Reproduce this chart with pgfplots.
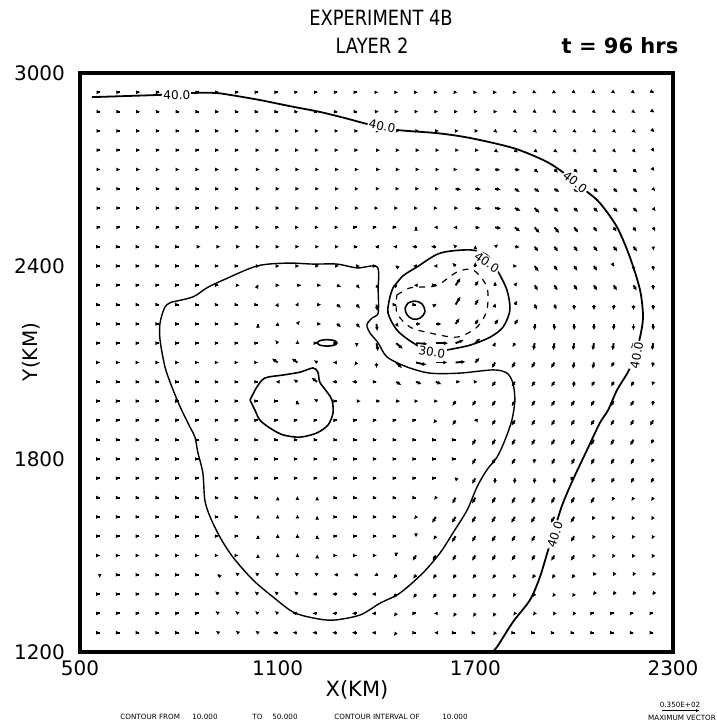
\documentclass[border=0pt]{standalone}
\usepackage{fontspec}
\setmainfont{DejaVu Sans}
\newfontfamily\titlefont[FakeStretch=0.85]{DejaVu Sans}
\usepackage{pgfplots}
\usepackage{pgfplotstable}
\pgfplotsset{compat=1.18}
\usetikzlibrary{arrows.meta}

\pgfplotstableread{
x y u v
560 2940 2 0
620 2940 2 0
680 2940 2 0
740 2940 2 0
800 2940 2 0
860 2940 2 0
920 2940 2 0
980 2940 2 0
1040 2940 2 0
1100 2940 2 0
1160 2940 2 0
1220 2940 2 0
1280 2940 2 0
1340 2940 2 0
1400 2940 5 0
1460 2940 5 0
1520 2940 5 0
1580 2940 5 0
1640 2940 5 0
1700 2940 5 0
1760 2940 5 0
1820 2940 5 0
1880 2940 5 -2
1940 2940 5 -2
2000 2940 4 -3
2060 2940 4 -3
2120 2940 4 -3
2180 2940 4 -3
2240 2940 2 -1
560 2880 2 0
620 2880 2 0
680 2880 2 0
740 2880 2 0
800 2880 2 0
860 2880 2 0
920 2880 2 0
980 2880 2 0
1040 2880 2 0
1100 2880 2 0
1160 2880 2 0
1220 2880 2 0
1280 2880 2 0
1340 2880 2 0
1400 2880 6 0
1460 2880 6 0
1520 2880 6 0
1580 2880 6 0
1640 2880 6 0
1700 2880 6 0
1760 2880 6 0
1820 2880 5 -4
1880 2880 5 -4
1940 2880 5 -4
2000 2880 5 -4
2060 2880 5 -4
2120 2880 5 -4
2180 2880 5 -4
2240 2880 3 -2
560 2820 2 0
620 2820 2 0
680 2820 2 0
740 2820 2 0
800 2820 2 0
860 2820 2 0
920 2820 2 0
980 2820 2 0
1040 2820 4 0
1100 2820 4 0
1160 2820 4 0
1220 2820 4 0
1280 2820 4 0
1340 2820 4 0
1400 2820 8 0
1460 2820 8 0
1520 2820 8 0
1580 2820 8 0
1640 2820 8 0
1700 2820 8 0
1760 2820 6 -5
1820 2820 6 -5
1880 2820 6 -5
1940 2820 6 -5
2000 2820 6 -5
2060 2820 6 -5
2120 2820 6 -5
2180 2820 6 -5
2240 2820 3 -3
560 2760 2 0
620 2760 2 0
680 2760 2 0
740 2760 2 0
800 2760 2 0
860 2760 2 0
920 2760 2 0
980 2760 2 0
1040 2760 4 0
1100 2760 4 0
1160 2760 4 0
1220 2760 4 0
1280 2760 4 0
1340 2760 4 0
1400 2760 9 0
1460 2760 9 0
1520 2760 9 0
1580 2760 9 0
1640 2760 9 0
1700 2760 9 0
1760 2760 8 -6
1820 2760 8 -6
1880 2760 8 -6
1940 2760 8 -6
2000 2760 6 -6
2060 2760 6 -6
2120 2760 6 -6
2180 2760 6 -6
2240 2760 3 -4
560 2700 2 0
620 2700 2 0
680 2700 2 0
740 2700 2 0
800 2700 2 0
860 2700 2 0
920 2700 2 0
980 2700 2 0
1040 2700 5 0
1100 2700 5 0
1160 2700 5 0
1220 2700 5 0
1280 2700 5 0
1340 2700 5 0
1400 2700 9 0
1460 2700 9 0
1520 2700 9 0
1580 2700 9 0
1640 2700 5 0
1700 2700 13 -1
1760 2700 13 -1
1820 2700 13 -1
1880 2700 9 -8
1940 2700 9 -8
2000 2700 9 -8
2060 2700 9 -8
2120 2700 9 -8
2180 2700 9 -8
2240 2700 3 -4
560 2640 2 0
620 2640 2 0
680 2640 2 0
740 2640 2 0
800 2640 2 0
860 2640 2 0
920 2640 2 0
980 2640 2 0
1040 2640 5 0
1100 2640 5 0
1160 2640 5 0
1220 2640 5 0
1280 2640 5 0
1340 2640 5 0
1400 2640 8 0
1460 2640 8 0
1520 2640 8 0
1580 2640 8 0
1640 2640 14 -2
1700 2640 14 -2
1760 2640 14 -2
1820 2640 12 -8
1880 2640 12 -8
1940 2640 12 -8
2000 2640 10 -9
2060 2640 10 -9
2120 2640 10 -9
2180 2640 10 -9
2240 2640 5 -6
560 2580 2 0
620 2580 2 0
680 2580 2 0
740 2580 2 0
800 2580 2 0
860 2580 2 0
920 2580 2 0
980 2580 2 0
1040 2580 5 0
1100 2580 5 0
1160 2580 5 0
1220 2580 5 0
1280 2580 5 0
1340 2580 5 0
1400 2580 5 0
1460 2580 5 0
1520 2580 5 0
1580 2580 5 0
1640 2580 7 0
1700 2580 15 -2
1760 2580 15 -2
1820 2580 14 -7
1880 2580 12 -12
1940 2580 10 -10
2000 2580 10 -10
2060 2580 10 -10
2120 2580 10 -10
2180 2580 10 -10
2240 2580 6 -8
560 2520 2 0
620 2520 2 0
680 2520 2 0
740 2520 2 0
800 2520 2 0
860 2520 2 0
920 2520 2 0
980 2520 2 0
1040 2520 4 0
1100 2520 4 0
1160 2520 4 0
1220 2520 4 0
1280 2520 4 0
1340 2520 1 0
1400 2520 1 0
1460 2520 1 0
1520 2520 0 2
1580 2520 -5 0
1640 2520 -6 0
1700 2520 12 -1
1760 2520 15 -2
1820 2520 13 -10
1880 2520 12 -14
1940 2520 12 -14
2000 2520 10 -13
2060 2520 8 -11
2120 2520 7 -11
2180 2520 7 -11
2240 2520 5 -10
560 2460 1 0
620 2460 1 0
680 2460 1 0
740 2460 1 0
800 2460 1 0
860 2460 5 0
920 2460 5 0
980 2460 5 0
1040 2460 5 0
1100 2460 5 0
1160 2460 5 0
1220 2460 5 0
1280 2460 5 0
1340 2460 3 0
1400 2460 -4 0
1460 2460 -8 0
1520 2460 -10 0
1580 2460 -12 0
1640 2460 -6 6
1700 2460 0 4
1760 2460 8 6
1820 2460 12 -1
1880 2460 9 -12
1940 2460 9 -12
2000 2460 9 -12
2060 2460 9 -12
2120 2460 9 -12
2180 2460 9 -12
2240 2460 1 -10
560 2400 1 0
620 2400 1 0
680 2400 1 0
740 2400 1 0
800 2400 1 0
860 2400 1 0
920 2400 1 0
980 2400 1 0
1040 2400 5 0
1100 2400 5 0
1160 2400 5 0
1220 2400 5 0
1280 2400 5 0
1340 2400 8 0
1400 2400 1 0
1460 2400 -2 2
1520 2400 -8 0
1580 2400 -6 0
1640 2400 -8 8
1700 2400 0 10
1760 2400 6 8
1820 2400 6 0
1880 2400 10 -14
1940 2400 8 -12
2000 2400 8 -12
2060 2400 8 -12
2120 2400 1 -2
2180 2400 0 -12
2240 2400 0 -12
560 2340 1 0
620 2340 1 0
680 2340 1 0
740 2340 1 0
800 2340 1 0
860 2340 1 0
920 2340 1 0
980 2340 4 0
1040 2340 1 2
1100 2340 5 0
1160 2340 10 0
1220 2340 10 0
1280 2340 10 -4
1340 2340 8 -8
1400 2340 6 -10
1460 2340 3 3
1520 2340 -6 0
1580 2340 1 0
1640 2340 12 18
1700 2340 8 12
1760 2340 0 10
1820 2340 6 8
1880 2340 8 -13
1940 2340 8 -13
2000 2340 8 -13
2060 2340 8 -13
2120 2340 8 -13
2180 2340 8 -13
2240 2340 0 -12
560 2280 1 0
620 2280 1 0
680 2280 1 0
740 2280 1 0
800 2280 1 0
860 2280 1 0
920 2280 1 0
980 2280 1 0
1040 2280 1 0
1100 2280 2 5
1160 2280 3 6
1220 2280 10 0
1280 2280 10 -8
1340 2280 8 -10
1400 2280 2 -16
1460 2280 1 0
1520 2280 1 0
1580 2280 2 1
1640 2280 12 20
1700 2280 8 14
1760 2280 1 3
1820 2280 6 10
1880 2280 6 -13
1940 2280 5 -13
2000 2280 0 -14
2060 2280 0 -14
2120 2280 0 -14
2180 2280 0 -14
2240 2280 0 -14
560 2220 1 0
620 2220 1 0
680 2220 1 0
740 2220 1 0
800 2220 1 0
860 2220 1 0
920 2220 1 0
980 2220 1 0
1040 2220 0 1
1100 2220 1 5
1160 2220 6 8
1220 2220 10 0
1280 2220 10 -8
1340 2220 8 -10
1400 2220 2 -18
1460 2220 6 -8
1520 2220 12 0
1580 2220 14 0
1640 2220 10 14
1700 2220 8 12
1760 2220 8 12
1820 2220 8 12
1880 2220 0 -16
1940 2220 0 -16
2000 2220 0 -16
2060 2220 0 -16
2120 2220 0 -16
2180 2220 0 -16
2240 2220 0 -16
560 2160 1 0
620 2160 1 0
680 2160 1 0
740 2160 1 0
800 2160 1 0
860 2160 1 0
920 2160 1 0
980 2160 1 0
1040 2160 1 0
1100 2160 -6 8
1160 2160 0 8
1220 2160 1 0
1280 2160 1 0
1340 2160 0 -10
1400 2160 4 -20
1460 2160 16 -14
1520 2160 28 -2
1580 2160 30 0
1640 2160 20 8
1700 2160 12 12
1760 2160 1 2
1820 2160 -6 -10
1880 2160 -3 -18
1940 2160 -3 -18
2000 2160 -3 -18
2060 2160 -3 -18
2120 2160 -3 -18
2180 2160 -3 -18
2240 2160 -3 -18
560 2100 1 0
620 2100 1 0
680 2100 1 0
740 2100 1 0
800 2100 1 0
860 2100 1 0
920 2100 1 0
980 2100 1 0
1040 2100 1 0
1100 2100 -14 10
1160 2100 -14 10
1220 2100 -8 6
1280 2100 -10 0
1340 2100 -6 -8
1400 2100 0 -14
1460 2100 14 -14
1520 2100 26 -6
1580 2100 28 0
1640 2100 24 2
1700 2100 10 12
1760 2100 -8 -14
1820 2100 -8 -14
1880 2100 -8 -14
1940 2100 -8 -14
2000 2100 -3 -16
2060 2100 -3 -16
2120 2100 -6 -12
2180 2100 -2 -14
2240 2100 -2 -12
560 2040 1 0
620 2040 1 0
680 2040 1 0
740 2040 1 0
800 2040 1 0
860 2040 1 0
920 2040 1 0
980 2040 1 0
1040 2040 1 0
1100 2040 -5 0
1160 2040 -10 6
1220 2040 -14 10
1280 2040 -12 0
1340 2040 -12 0
1400 2040 1 0
1460 2040 12 -8
1520 2040 14 -6
1580 2040 14 -6
1640 2040 12 0
1700 2040 6 0
1760 2040 -8 -12
1820 2040 -8 -12
1880 2040 -8 -12
1940 2040 -8 -12
2000 2040 -2 -14
2060 2040 -6 -12
2120 2040 -6 -12
2180 2040 -6 -12
2240 2040 -2 -10
560 1980 1 0
620 1980 1 0
680 1980 1 0
740 1980 1 0
800 1980 1 0
860 1980 1 0
920 1980 1 0
980 1980 1 0
1040 1980 1 0
1100 1980 1 0
1160 1980 0 2
1220 1980 -8 6
1280 1980 1 0
1340 1980 10 0
1400 1980 10 0
1460 1980 10 0
1520 1980 6 0
1580 1980 6 0
1640 1980 -8 -12
1700 1980 -8 -12
1760 1980 -8 -13
1820 1980 -8 -13
1880 1980 -8 -13
1940 1980 -8 -13
2000 1980 -8 -13
2060 1980 -8 -13
2120 1980 -8 -13
2180 1980 -8 -13
2240 1980 -2 -12
560 1920 1 0
620 1920 1 0
680 1920 1 0
740 1920 1 0
800 1920 1 0
860 1920 1 0
920 1920 1 0
980 1920 1 0
1040 1920 1 0
1100 1920 1 0
1160 1920 1 0
1220 1920 1 0
1280 1920 1 0
1340 1920 1 0
1400 1920 1 0
1460 1920 1 0
1520 1920 1 0
1580 1920 -6 -8
1640 1920 -8 -12
1700 1920 -4 0
1760 1920 -8 -12
1820 1920 -8 -13
1880 1920 -8 -13
1940 1920 -8 -13
2000 1920 -8 -13
2060 1920 -8 -13
2120 1920 -8 -13
2180 1920 -8 -13
2240 1920 -8 -13
560 1860 1 0
620 1860 1 0
680 1860 1 0
740 1860 1 0
800 1860 1 0
860 1860 1 0
920 1860 1 0
980 1860 1 0
1040 1860 1 0
1100 1860 1 0
1160 1860 1 0
1220 1860 1 0
1280 1860 1 0
1340 1860 1 0
1400 1860 1 0
1460 1860 1 0
1520 1860 1 0
1580 1860 1 0
1640 1860 1 0
1700 1860 -8 -14
1760 1860 -8 -14
1820 1860 -8 -14
1880 1860 -8 -14
1940 1860 -8 -14
2000 1860 -8 -14
2060 1860 -8 -14
2120 1860 -8 -14
2180 1860 -8 -14
2240 1860 -6 -11
560 1800 1 0
620 1800 1 0
680 1800 1 0
740 1800 1 0
800 1800 1 0
860 1800 1 0
920 1800 1 0
980 1800 1 0
1040 1800 1 0
1100 1800 1 0
1160 1800 1 0
1220 1800 1 0
1280 1800 1 0
1340 1800 1 0
1400 1800 1 0
1460 1800 1 0
1520 1800 1 0
1580 1800 1 0
1640 1800 1 0
1700 1800 -8 -14
1760 1800 -8 -14
1820 1800 -8 -14
1880 1800 -2 -12
1940 1800 -7 -14
2000 1800 -7 -14
2060 1800 -7 -14
2120 1800 -7 -14
2180 1800 -7 -14
2240 1800 -5 -10
560 1740 1 0
620 1740 1 0
680 1740 1 0
740 1740 1 0
800 1740 1 0
860 1740 1 0
920 1740 1 0
980 1740 1 0
1040 1740 1 0
1100 1740 1 0
1160 1740 1 0
1220 1740 1 0
1280 1740 1 0
1340 1740 1 0
1400 1740 1 0
1460 1740 1 0
1520 1740 1 0
1580 1740 1 0
1640 1740 -3 3
1700 1740 -8 -14
1760 1740 -1 -14
1820 1740 -1 -14
1880 1740 -1 -14
1940 1740 -1 -14
2000 1740 1 0
2060 1740 -6 -12
2120 1740 -6 -12
2180 1740 -6 -12
2240 1740 -6 -12
560 1680 1 0
620 1680 1 0
680 1680 1 0
740 1680 1 0
800 1680 1 0
860 1680 1 0
920 1680 1 0
980 1680 1 0
1040 1680 1 0
1100 1680 0 3
1160 1680 0 4
1220 1680 0 3
1280 1680 1 0
1340 1680 1 0
1400 1680 1 0
1460 1680 1 0
1520 1680 1 0
1580 1680 -4 -6
1640 1680 -8 -15
1700 1680 -8 -15
1760 1680 -8 -15
1820 1680 -8 -15
1880 1680 -8 -15
1940 1680 -8 -15
2000 1680 -8 -15
2060 1680 -8 -15
2120 1680 -5 -9
2180 1680 -5 -9
2240 1680 -5 -9
560 1620 1 0
620 1620 1 0
680 1620 1 0
740 1620 1 0
800 1620 1 0
860 1620 1 0
920 1620 1 0
980 1620 1 0
1040 1620 0 6
1100 1620 0 6
1160 1620 0 6
1220 1620 0 3
1280 1620 1 0
1340 1620 1 0
1400 1620 1 0
1460 1620 1 0
1520 1620 -5 -6
1580 1620 -9 -15
1640 1620 -9 -15
1700 1620 -9 -15
1760 1620 -9 -15
1820 1620 -9 -15
1880 1620 -9 -15
1940 1620 -9 -15
2000 1620 -9 -15
2060 1620 -5 -9
2120 1620 -5 -9
2180 1620 -5 -9
2240 1620 -5 -9
560 1560 1 0
620 1560 1 0
680 1560 1 0
740 1560 1 0
800 1560 1 0
860 1560 1 0
920 1560 1 0
980 1560 1 0
1040 1560 0 3
1100 1560 0 6
1160 1560 0 6
1220 1560 0 3
1280 1560 1 0
1340 1560 1 0
1400 1560 1 0
1460 1560 1 0
1520 1560 0 -3
1580 1560 -6 -9
1640 1560 -9 -15
1700 1560 -8 -14
1760 1560 -8 -14
1820 1560 -8 -14
1880 1560 -8 -14
1940 1560 -8 -14
2000 1560 -8 -14
2060 1560 -4 -8
2120 1560 -4 -8
2180 1560 -4 -8
2240 1560 -4 -8
560 1500 1 0
620 1500 1 0
680 1500 1 0
740 1500 1 0
800 1500 1 0
860 1500 1 0
920 1500 1 0
980 1500 1 0
1040 1500 0 4
1100 1500 0 6
1160 1500 0 6
1220 1500 0 3
1280 1500 1 0
1340 1500 1 0
1400 1500 1 0
1460 1500 0 -3
1520 1500 -8 -13
1580 1500 -8 -13
1640 1500 -8 -13
1700 1500 -8 -13
1760 1500 -8 -13
1820 1500 -8 -13
1880 1500 -8 -13
1940 1500 -8 -13
2000 1500 -8 -13
2060 1500 -4 -7
2120 1500 -4 -7
2180 1500 -4 -7
2240 1500 -4 -7
560 1440 0 -8
620 1440 1 0
680 1440 1 0
740 1440 1 0
800 1440 1 0
860 1440 1 0
920 1440 -2 2
980 1440 -7 6
1040 1440 -7 6
1100 1440 -7 6
1160 1440 -7 6
1220 1440 -7 6
1280 1440 -8 0
1340 1440 -8 0
1400 1440 -6 -3
1460 1440 -7 -10
1520 1440 -7 -10
1580 1440 -7 -10
1640 1440 -7 -10
1700 1440 -7 -10
1760 1440 -7 -10
1820 1440 -6 -10
1880 1440 -6 -10
1940 1440 -6 -10
2000 1440 -6 -10
2060 1440 -2 -4
2120 1440 -2 -4
2180 1440 -2 -4
2240 1440 -2 -4
560 1380 1 0
620 1380 1 0
680 1380 1 0
740 1380 1 0
800 1380 1 0
860 1380 1 0
920 1380 -8 7
980 1380 -8 7
1040 1380 -8 7
1100 1380 -8 7
1160 1380 -8 7
1220 1380 -12 0
1280 1380 -12 0
1340 1380 -12 0
1400 1380 -12 0
1460 1380 -7 -10
1520 1380 -7 -10
1580 1380 -7 -10
1640 1380 -7 -10
1700 1380 -7 -10
1760 1380 -7 -10
1820 1380 -5 -8
1880 1380 -5 -8
1940 1380 -5 -8
2000 1380 -5 -8
2060 1380 -2 -3
2120 1380 -2 -3
2180 1380 -2 -3
2240 1380 -2 -3
560 1320 1 0
620 1320 1 0
680 1320 1 0
740 1320 1 0
800 1320 1 0
860 1320 1 0
920 1320 -7 6
980 1320 -7 6
1040 1320 -7 6
1100 1320 -7 6
1160 1320 -12 0
1220 1320 -12 0
1280 1320 -12 0
1340 1320 -12 0
1400 1320 -12 0
1460 1320 -6 -8
1520 1320 1 0
1580 1320 -5 0
1640 1320 -6 -9
1700 1320 -6 -9
1760 1320 -6 -9
1820 1320 -4 -6
1880 1320 -4 -6
1940 1320 -4 -6
2000 1320 -4 -6
2060 1320 1 0
2120 1320 1 0
2180 1320 1 0
2240 1320 1 0
560 1260 1 0
620 1260 1 0
680 1260 1 0
740 1260 1 0
800 1260 1 0
860 1260 1 0
920 1260 -6 5
980 1260 -6 5
1040 1260 -6 5
1100 1260 -12 0
1160 1260 -12 0
1220 1260 -12 0
1280 1260 -12 0
1340 1260 -12 0
1400 1260 -12 0
1460 1260 -6 -8
1520 1260 1 0
1580 1260 -4 0
1640 1260 1 0
1700 1260 1 0
1760 1260 -5 -7
1820 1260 1 0
1880 1260 1 0
1940 1260 1 0
2000 1260 1 0
2060 1260 1 0
2120 1260 1 0
2180 1260 1 0
2240 1260 1 0
}\vecdata

\begin{document}
\begin{tikzpicture}
\useasboundingbox (-40pt,-36.5pt) rectangle (318.5pt,326pt);
\begin{axis}[
  at={(0pt,0pt)}, anchor=south west,
  scale only axis, width=296.5pt, height=289.5pt,
  xmin=500, xmax=2300, ymin=1200, ymax=3000,
  xtick={500,1100,1700,2300}, ytick={1200,1800,2400,3000},
  xticklabels={500,1100,1700,2300}, yticklabels={1200,1800,2400,3000},
  major tick length=0pt,
  axis line style={line width=2pt},
  tick label style={font=\fontsize{10}{12}\selectfont},
  /pgf/number format/assume math mode=true,
  yticklabel style={xshift=-4pt},
  xticklabel style={yshift=-1pt},
]
\addplot[black, line width=0.95pt,
  quiver={u=\thisrow{u}, v=\thisrow{v}, scale arrows=1.25},
  -{Latex[length=2pt,width=2pt]}] table {\vecdata};

% outer 40 contour
\addplot[black, line width=0.9pt, smooth, tension=0.5] coordinates {
(536,2925) (743,2932) (846,2938) (910,2938) (955,2932) (1046,2916) (1137,2897)
(1228,2879) (1304,2860) (1374,2841) (1462,2823) (1584,2813) (1684,2798)
(1814,2767) (1905,2730) (1957,2698) (2033,2636) (2078,2596) (2130,2521)
(2169,2428) (2200,2325) (2209,2241) (2200,2179) (2185,2123) (2163,2070)
(2130,2014) (2103,1952) (2078,1912) (2039,1828) (1996,1735) (1966,1663)
(1951,1617) (1936,1564) (1921,1517) (1896,1433) (1866,1362) (1814,1293)
(1766,1216) (1751,1200)};

% big blob contour
\addplot[black, line width=0.7pt, smooth, tension=0.5] coordinates {
(779,2288) (843,2304) (885,2332) (934,2356) (1037,2400) (1128,2409) (1207,2406)
(1280,2406) (1341,2394) (1402,2397) (1405,2325) (1405,2254) (1386,2238)
(1371,2217) (1380,2192) (1405,2161) (1432,2117) (1493,2086) (1562,2067)
(1653,2067) (1754,2077) (1796,2067) (1814,2036) (1820,1983) (1811,1921)
(1790,1859) (1766,1806) (1735,1766) (1705,1713) (1675,1641) (1632,1570)
(1593,1508) (1541,1446) (1471,1383) (1411,1352) (1350,1315) (1268,1299)
(1207,1306) (1147,1324) (1086,1371) (1025,1424) (964,1495) (925,1557)
(895,1620) (879,1672) (873,1756) (858,1819) (849,1868) (834,1899) (804,1962)
(779,2024) (758,2086) (743,2170) (743,2223) (758,2273) (779,2288)};

% small closed blob
\addplot[black, line width=0.8pt, smooth, tension=0.5] coordinates {
(1016,1983) (1037,2024) (1062,2052) (1116,2061) (1168,2070) (1207,2083)
(1222,2070) (1228,2039) (1250,2008) (1265,1983) (1268,1943) (1253,1906)
(1219,1881) (1168,1868) (1116,1875) (1077,1896) (1046,1921) (1031,1952)
(1016,1983)};

% small ellipse
\addplot[black, line width=0.8pt, smooth, tension=0.6] coordinates {
(1220,2161) (1228,2168) (1250,2171) (1272,2168) (1280,2161) (1272,2154)
(1250,2151) (1228,2154) (1220,2161)};

% vortex outer ring
\addplot[black, line width=0.8pt, smooth, tension=0.5] coordinates {
(1450,2332) (1480,2369) (1523,2397) (1593,2440) (1684,2450) (1735,2434)
(1766,2388) (1796,2325) (1805,2263) (1784,2210) (1745,2179) (1684,2154)
(1614,2139) (1568,2133) (1511,2161) (1462,2201) (1435,2254) (1441,2304)
(1450,2332)};

% vortex inner dashed
\addplot[black, line width=0.6pt, dashed, smooth, tension=0.5] coordinates {
(1462,2310) (1502,2332) (1547,2335) (1587,2341) (1644,2381) (1693,2388)
(1735,2335) (1735,2263) (1705,2210) (1644,2179) (1562,2192) (1502,2210)
(1462,2254) (1462,2310)};

% innermost
\addplot[black, line width=0.8pt, smooth, tension=0.6] coordinates {
(1496,2285) (1517,2291) (1538,2282) (1547,2257) (1532,2238) (1511,2235)
(1493,2248) (1487,2269) (1496,2285)};

\begin{scope}[every node/.style={fill=white, inner sep=0.6pt, font=\fontsize{6}{7}\selectfont}]
\node at (axis cs:794,2932) {40.0};
\node[rotate=-12] at (axis cs:1417,2835) {40.0};
\node[rotate=-38] at (axis cs:2003,2661) {40.0};
\node[rotate=80] at (axis cs:2190,2123) {40.0};
\node[rotate=72] at (axis cs:1942,1564) {40.0};
\node[rotate=-35] at (axis cs:1735,2412) {40.0};
\node[rotate=-8] at (axis cs:1568,2133) {30.0};
\end{scope}
\end{axis}

\node[font=\titlefont\fontsize{10.5}{12}\selectfont] at (150.5pt,317pt) {EXPERIMENT 4B};
\node[font=\titlefont\fontsize{10.5}{12}\selectfont] at (146pt,303pt) {LAYER 2};
\node[font=\bfseries\fontsize{10.5}{12}\selectfont] at (270pt,303pt) {t = 96 hrs};
\node[rotate=90, font=\fontsize{10}{12}\selectfont] at (-24.5pt,150pt) {Y(KM)};
\node[font=\fontsize{10.5}{12}\selectfont] at (138.5pt,-19pt) {X(KM)};

\begin{scope}[every node/.style={font=\fontsize{3.6}{4}\selectfont, inner sep=0pt}]
\node[anchor=west] at (20pt,-32.5pt) {CONTOUR FROM};
\node[anchor=west] at (56pt,-32.5pt) {10.000};
\node[anchor=west] at (86pt,-32.5pt) {TO};
\node[anchor=west] at (96pt,-32.5pt) {50.000};
\node[anchor=west] at (127pt,-32.5pt) {CONTOUR INTERVAL OF};
\node[anchor=west] at (181pt,-32.5pt) {10.000};
\node at (300pt,-26.5pt) {0.350E+02};
\node at (301pt,-33pt) {MAXIMUM VECTOR};
\end{scope}
\draw[line width=0.4pt, -{Latex[length=2pt,width=1.5pt]}] (291pt,-29.3pt) -- (310pt,-29.3pt);
\end{tikzpicture}
\end{document}
